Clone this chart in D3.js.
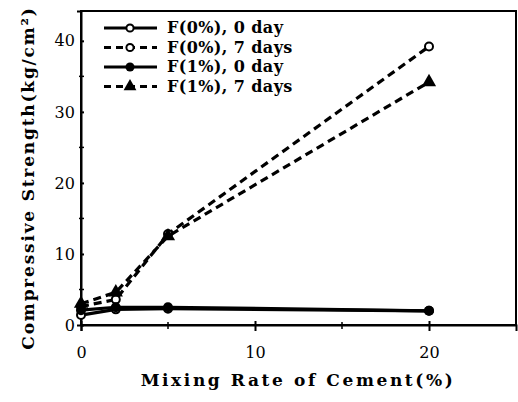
<!DOCTYPE html>
<html><head><meta charset="utf-8">
<script src="https://cdn.jsdelivr.net/npm/d3@7"></script>
<style>body{margin:0;background:#fff}svg{display:block}</style>
</head><body>
<script>
const xValues = [0, 2, 5, 20];
const seriesNames = ["F(0%), 0 day", "F(0%), 7 days", "F(1%), 0 day", "F(1%), 7 days"];
const f0day0 = [1.4, 2.2, 2.3, 2.0];
const f0day7 = [2.6, 3.6, 12.8, 39.2];
const f1day0 = [2.1, 2.5, 2.5, 2.0];
const f1day7 = [3.0, 4.6, 12.5, 34.2];
const xTicks = [0, 10, 20];
const yTicks = [0, 10, 20, 30, 40];
const xMinor = [5, 15];
const yMinor = [5, 15, 25, 35];

const series = [
  {name: seriesNames[0], values: f0day0, dash: null, marker: "circle"},
  {name: seriesNames[1], values: f0day7, dash: "8,5", marker: "circle"},
  {name: seriesNames[2], values: f1day0, dash: null, marker: "dot"},
  {name: seriesNames[3], values: f1day7, dash: "8,5", marker: "triangle"}
];

const W = 518, H = 402;
const m = {left: 81, right: 2, top: 11, bottom: 77};
const svg = d3.select("body").append("svg").attr("width", W).attr("height", H);
const x = d3.scaleLinear().domain([0, 25]).range([m.left, W - m.right]);
const y = d3.scaleLinear().domain([0, 44.2]).range([H - m.bottom, m.top]);
const font = "'DejaVu Serif', serif";

// frame
svg.append("rect").attr("x", x(0)).attr("y", y(44.2)).attr("width", x(25) - x(0)).attr("height", y(0) - y(44.2))
  .attr("fill", "none").attr("stroke", "#000").attr("stroke-width", 2);

// axes
const xAxis = d3.axisBottom(x).tickValues(xTicks).tickSize(6).tickFormat(d3.format("d"));
const gx = svg.append("g").attr("transform", `translate(0,${y(0)})`).call(xAxis);
gx.select(".domain").attr("stroke-width", 2);
gx.selectAll(".tick line").attr("stroke-width", 2).attr("y1", -4);
gx.selectAll(".tick text").attr("font-family", font).attr("font-size", 16).attr("dy", "1.5em");
svg.append("g").selectAll("line").data(xMinor).join("line")
  .attr("x1", d => x(d)).attr("x2", d => x(d)).attr("y1", y(0) - 3).attr("y2", y(0) + 4)
  .attr("stroke", "#000").attr("stroke-width", 1.5);

const yAxis = d3.axisLeft(y).tickValues(yTicks).tickSize(4).tickFormat(d3.format("d"));
const gy = svg.append("g").attr("transform", `translate(${x(0)},0)`).call(yAxis);
gy.select(".domain").attr("stroke-width", 2);
gy.selectAll(".tick line").attr("stroke-width", 2).attr("x2", 3);
gy.selectAll(".tick text").attr("font-family", font).attr("font-size", 16).attr("dx", "0.05em");
svg.append("g").selectAll("line").data(yMinor).join("line")
  .attr("y1", d => y(d)).attr("y2", d => y(d)).attr("x1", x(0) - 2).attr("x2", x(0) + 3)
  .attr("stroke", "#000").attr("stroke-width", 1.5);

// titles
svg.append("text").attr("x", 298).attr("y", 386).attr("text-anchor", "middle")
  .attr("font-family", font).attr("font-size", 17).attr("font-weight", "bold")
  .attr("letter-spacing", 2.6).text("Mixing Rate of Cement(%)");
svg.append("text").attr("transform", "translate(34,178) rotate(-90)").attr("text-anchor", "middle")
  .attr("font-family", font).attr("font-size", 17).attr("font-weight", "bold")
  .attr("letter-spacing", 1.8).text("Compressive Strength(kg/cm²)");

// markers
function drawMarker(g, type, cx, cy, s) {
  if (type === "circle") {
    g.append("circle").attr("cx", cx).attr("cy", cy).attr("r", s * 0.8)
      .attr("fill", "#fff").attr("stroke", "#000").attr("stroke-width", 2);
  } else if (type === "triangle") {
    g.append("path").attr("d", d3.symbol().type(d3.symbolTriangle).size(s * s * 3.5)())
      .attr("transform", `translate(${cx},${cy})`).attr("fill", "#000");
  } else {
    g.append("path").attr("d", d3.symbol().type(d3.symbolCircle).size(s * s * 3.2)())
      .attr("transform", `translate(${cx},${cy})`).attr("fill", "#000");
  }
}

const line = d3.line().x((d, i) => x(xValues[i])).y(d => y(d));
series.forEach(s => {
  svg.append("path").datum(s.values).attr("d", line).attr("fill", "none")
    .attr("stroke", "#000").attr("stroke-width", 3.2).attr("stroke-dasharray", s.dash);
});
series.forEach(s => {
  const g = svg.append("g");
  s.values.forEach((v, i) => drawMarker(g, s.marker, x(xValues[i]), y(v), 5));
});

// legend
const lg = svg.append("g");
series.forEach((s, i) => {
  const yy = 28 + i * 19.5;
  lg.append("line").attr("x1", 104).attr("x2", 157).attr("y1", yy).attr("y2", yy)
    .attr("stroke", "#000").attr("stroke-width", 3).attr("stroke-dasharray", s.dash ? "7,5" : null);
  drawMarker(lg, s.marker, 130, yy, 4.5);
  lg.append("text").attr("x", 167).attr("y", yy + 5).attr("font-family", font).attr("font-size", 16)
    .attr("font-weight", "bold").attr("letter-spacing", 0.4).text(s.name);
});
</script>
</body></html>
